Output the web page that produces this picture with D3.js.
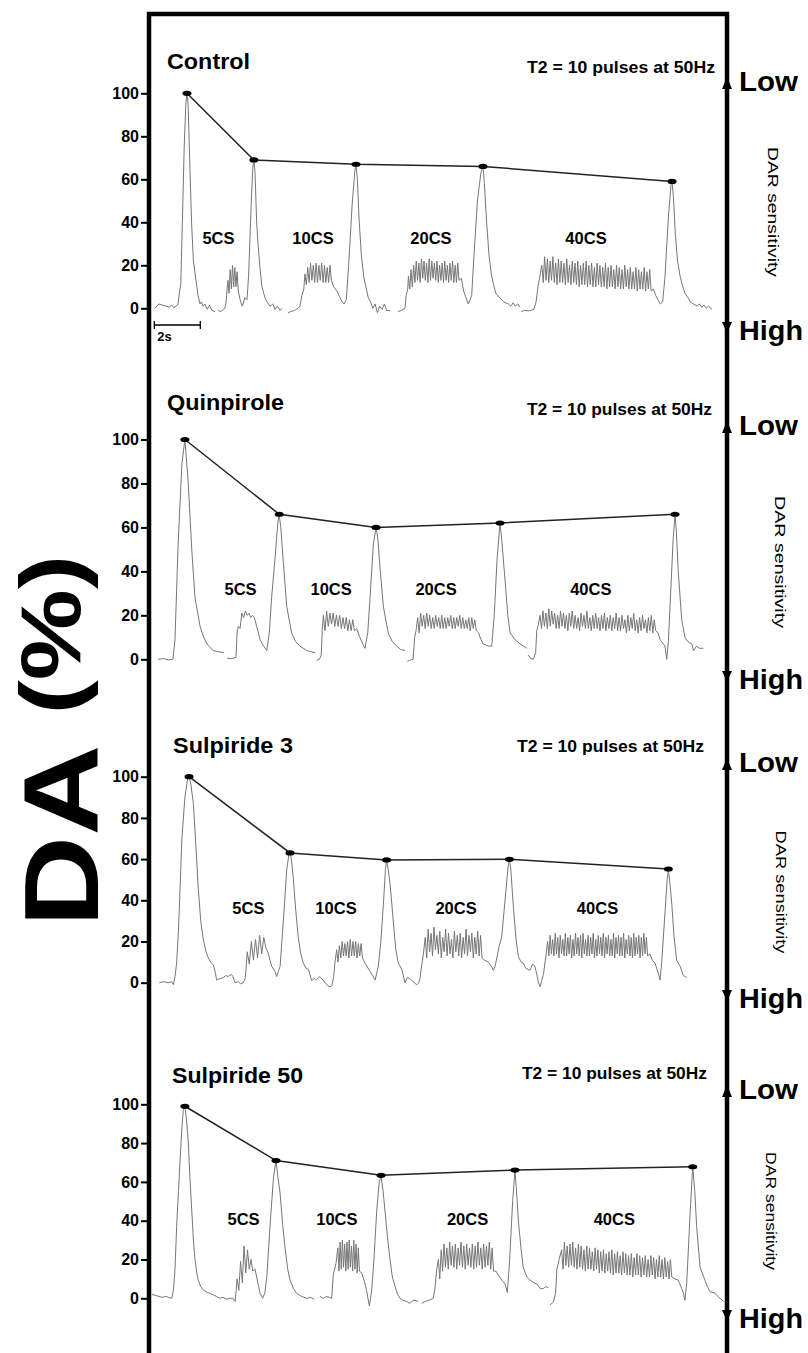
<!DOCTYPE html>
<html>
<head>
<meta charset="utf-8">
<title>DA (%) - DAR sensitivity</title>
<script src="https://d3js.org/d3.v7.min.js"></script>
<style>
  body { margin: 0; background: #fff; }
  svg text { font-family: "Liberation Sans", Arial, sans-serif; fill: #000; }
</style>
</head>
<body>
<svg id="chart" width="808" height="1353"></svg>
<script>
// ---- data (time in s, DA in %) ----
const panelNames = ["Control", "Quinpirole", "Sulpiride 3", "Sulpiride 50"];
const stimText = "T2 = 10 pulses at 50Hz";
const csLabels = ["5CS", "10CS", "20CS", "40CS"];
const yTicks = [0, 20, 40, 60, 80, 100];
const scaleBarT = [0.1, 2.1];

// T2 peak heights
const ctrlPeakT = [1.52, 4.43, 8.87, 14.39, 22.61];
const ctrlPeakV = [100, 69, 67, 66, 59];
const quinPeakT = [1.43, 5.53, 9.74, 15.13, 22.74];
const quinPeakV = [100, 66, 60, 62, 66];
const sul3PeakT = [1.61, 6.0, 10.2, 15.54, 22.45];
const sul3PeakV = [100, 63, 59.6, 59.9, 55.2];
const sul50PeakT = [1.43, 5.39, 9.96, 15.78, 23.51];
const sul50PeakV = [99, 71, 63.4, 66.1, 67.8];

// label position (time of centre) and level for 5CS..40CS
const ctrlLabelT = [2.89, 7.0, 12.13, 18.87], ctrlLabelV = 30;
const quinLabelT = [3.85, 7.79, 12.35, 19.08], quinLabelV = 29.3;
const sul3LabelT = [4.19, 8.0, 13.22, 19.37], sul3LabelV = 33.3;
const sul50LabelT = [3.98, 8.04, 13.72, 20.1], sul50LabelV = 37.8;

// trace segments (smooth parts), [t, v]
const ctrlTrace = [
  [[0.13,0],[0.3,2],[0.45,1.5],[0.6,1],[0.75,0.5],[0.85,1.5],[0.95,0.3],[1.05,1],[1.13,2],[1.2,8],[1.25,11],[1.32,40],[1.4,75],[1.47,95],[1.52,100],[1.57,95],[1.65,65],[1.72,40],[1.8,22],[1.9,14],[2.0,6],[2.09,2],[2.15,3],[2.22,1],[2.3,2],[2.4,-0.5],[2.5,1.5],[2.6,-1],[2.74,-1.5]],
  [[2.87,-1],[3.0,-1.5],[3.1,-0.5],[3.17,0],[3.22,3],[3.26,8],[3.83,4],[3.92,1],[3.96,2],[4.04,5],[4.13,4],[4.2,15],[4.3,45],[4.38,65],[4.43,69],[4.48,63],[4.55,40],[4.61,30],[4.7,18],[4.78,10],[4.91,5],[5.0,3],[5.13,1],[5.25,2],[5.35,-0.5],[5.45,1],[5.57,-1],[5.65,0]],
  [[5.91,-2],[6.05,-1.5],[6.2,-1],[6.35,0],[6.43,1],[6.52,6],[6.6,9],[7.9,10],[8.04,8],[8.17,5],[8.26,3],[8.35,2],[8.45,4],[8.55,20],[8.7,48],[8.82,64],[8.87,67],[8.93,60],[9.0,42],[9.1,25],[9.2,15],[9.3,10],[9.4,5],[9.5,3],[9.6,0],[9.7,2],[9.8,-2],[9.9,1],[10.0,-0.5],[10.1,2],[10.2,-1],[10.35,-1]],
  [[10.7,-1.5],[10.85,-1],[11.0,0],[11.05,6],[11.12,9],[13.45,14],[13.55,8],[13.65,5],[13.75,2],[13.83,4],[13.9,6],[14.0,25],[14.15,50],[14.3,63],[14.39,66],[14.45,58],[14.55,40],[14.65,25],[14.75,16],[14.85,11],[14.95,7],[15.1,5],[15.3,3],[15.5,2],[15.6,1],[15.7,2.5],[15.8,1],[15.9,2],[16.0,0.5]],
  [[16.05,-1.5],[16.2,-1],[16.4,-1.2],[16.6,-0.5],[16.7,3],[16.78,10],[16.85,14],[21.8,9],[21.9,6],[22.0,4],[22.1,2],[22.2,3],[22.3,14],[22.45,42],[22.56,57],[22.61,59],[22.67,52],[22.75,35],[22.85,22],[22.96,15],[23.05,11],[23.17,7],[23.3,5],[23.4,3],[23.55,2],[23.7,1],[23.8,2],[23.9,0.5],[24.0,1.5],[24.1,0],[24.2,1],[24.35,-0.5]]
];
const quinTrace = [
  [[0.26,0],[0.5,0.3],[0.7,-0.3],[0.91,0],[1.0,9],[1.13,51],[1.3,89],[1.43,100],[1.57,81],[1.74,48],[1.87,28],[2.09,15],[2.25,10],[2.39,7],[2.65,4],[2.85,3.5],[3.13,3]],
  [[3.27,0.5],[3.45,0.3],[3.65,0.8],[3.7,12],[4.55,15],[4.7,9],[4.85,6],[4.99,4],[5.1,12],[5.2,28],[5.35,46],[5.47,62],[5.53,66],[5.6,60],[5.71,44],[5.86,24],[6.07,12],[6.25,8],[6.43,6],[6.73,4],[6.9,3.5],[7.09,3]],
  [[7.16,-0.5],[7.28,0],[7.36,2],[7.4,13],[8.9,14],[9.0,11],[9.12,8],[9.26,5],[9.38,12],[9.48,28],[9.62,52],[9.74,60],[9.82,55],[9.91,42],[10.06,24],[10.27,12],[10.45,8],[10.64,6],[10.8,4.5],[11.0,4]],
  [[11.1,-1],[11.2,-0.5],[11.35,0],[11.42,10],[11.48,13],[14.2,12],[14.3,9],[14.4,7],[14.62,6],[14.77,6],[14.88,20],[15.0,45],[15.13,62],[15.2,55],[15.35,36],[15.47,20],[15.57,12],[15.78,9],[16.0,7],[16.15,6],[16.29,5]],
  [[16.36,2],[16.45,0.5],[16.58,0],[16.68,3],[16.73,13],[16.8,16],[22.0,12],[22.09,9],[22.3,6],[22.38,0],[22.45,8],[22.55,30],[22.66,55],[22.74,66],[22.8,58],[22.88,40],[23.03,18],[23.17,10],[23.3,8],[23.47,7],[23.55,4],[23.68,6],[23.8,5],[23.97,5]]
];
const sul3Trace = [
  [[0.32,0],[0.5,0.5],[0.7,0],[0.85,0.5],[0.93,-1],[1.0,3],[1.07,9.5],[1.15,25],[1.22,46],[1.3,70],[1.43,90],[1.55,99],[1.61,100],[1.68,97],[1.8,87],[1.9,68],[2.01,46],[2.12,30],[2.23,21],[2.35,15],[2.45,12],[2.55,10],[2.67,8.6],[2.75,5],[2.81,1.3],[2.96,2],[3.1,2.5],[3.2,3.5],[3.3,3],[3.45,4],[3.52,3],[3.61,0],[3.75,0.5],[3.85,-0.5],[3.97,0]],
  [[3.97,0],[4.05,2],[4.1,8],[5.06,14],[5.2,8],[5.35,5.5],[5.42,3],[5.57,8],[5.71,30],[5.86,55],[5.95,62],[6.0,63],[6.06,60],[6.14,51],[6.25,35],[6.36,22],[6.47,14],[6.58,9.5],[6.7,7],[6.8,6.5],[6.94,1],[7.05,2],[7.15,1.5],[7.3,3],[7.45,1],[7.6,-1],[7.74,-2]],
  [[7.74,-2],[7.82,-1.5],[7.9,3],[7.95,9.5],[9.26,9.5],[9.48,5.5],[9.7,1.3],[9.84,8],[9.95,20],[10.06,38],[10.15,55],[10.2,59.6],[10.27,55],[10.35,48],[10.49,30],[10.6,16],[10.71,9.5],[10.86,6.5],[11.0,0],[11.1,2.5],[11.22,2],[11.35,0.5],[11.51,-1],[11.6,0]],
  [[11.6,0],[11.65,2],[11.72,8],[11.8,14],[14.45,11],[14.62,10],[14.75,8],[14.84,6],[14.92,8],[14.99,12],[15.1,18],[15.2,22],[15.35,40],[15.48,56],[15.54,60],[15.6,55],[15.71,37],[15.82,22],[15.93,12.6],[16.05,10],[16.14,9.5],[16.25,7],[16.43,6],[16.55,9],[16.65,8],[16.75,3],[16.8,0],[16.88,-2],[16.94,1]],
  [[16.94,1],[17.02,4],[17.09,10],[17.14,14],[21.65,14],[21.75,11],[21.87,9.5],[22.0,5],[22.09,1.3],[22.16,10],[22.28,30],[22.4,50],[22.45,55],[22.52,48],[22.6,38],[22.7,22],[22.81,11],[22.96,8],[23.1,3.5],[23.25,2.5]]
];
const sul50Trace = [
  [[0.0,2],[0.15,1.5],[0.3,1],[0.45,0.5],[0.6,1],[0.75,0.3],[0.86,0],[0.93,4],[1.0,15],[1.07,37],[1.15,55],[1.22,71],[1.3,88],[1.36,97],[1.43,99],[1.5,92],[1.58,80],[1.65,62],[1.73,45],[1.8,30],[1.87,20],[1.95,13],[2.01,9.4],[2.12,6],[2.23,4.3],[2.4,3],[2.55,2.5],[2.67,1.7],[2.8,1],[2.95,0],[3.09,0.5],[3.25,-0.5],[3.4,0],[3.52,0],[3.61,-1.7],[3.66,4],[4.48,15],[4.6,8],[4.7,2.6],[4.81,0],[4.91,3],[5.0,12],[5.13,37],[5.28,62],[5.39,71],[5.47,63],[5.57,54],[5.68,38],[5.78,26.6],[5.9,15],[6.0,9.4],[6.15,5],[6.29,2.6],[6.5,1],[6.73,0],[6.9,0.5],[7.05,-0.5]],
  [[7.3,1],[7.45,0],[7.6,1],[7.81,0],[7.88,12],[8.0,18],[9.12,13],[9.25,8],[9.33,4],[9.45,-4],[9.55,4],[9.65,20],[9.77,45],[9.88,60],[9.96,63],[10.05,55],[10.13,45],[10.25,30],[10.35,20],[10.45,11],[10.57,6],[10.68,2],[10.78,0],[10.9,-1],[11.05,-1.5],[11.22,-2.6],[11.35,-1],[11.58,-1.5]],
  [[11.73,-2.6],[11.9,-1.5],[12.05,-1],[12.23,0],[12.3,5],[12.38,15],[14.95,14],[15.06,12],[15.2,9.5],[15.35,7.4],[15.45,3],[15.55,20],[15.68,50],[15.78,66],[15.85,55],[15.93,40],[16.05,25],[16.14,16],[16.3,11],[16.43,9.4],[16.6,8],[16.73,7.4],[16.88,5],[17.01,5],[17.12,6],[17.23,5.5]],
  [[17.3,-3.4],[17.45,-2],[17.55,3],[17.6,14.6],[17.7,20],[22.74,10],[22.88,9.4],[23.03,5],[23.1,3],[23.17,-1],[23.25,8],[23.38,40],[23.51,68],[23.6,55],[23.68,37],[23.83,16],[24.04,9.4],[24.15,6],[24.26,3.4],[24.48,2.6],[24.6,1],[24.7,0],[24.84,-1.5]]
];

// pulse trains: [start, end] time, pulse tops and troughs (5, 10, 20, 40 pulses)
const ctrlBurstT = [[3.3, 3.75], [6.65, 7.8], [11.15, 13.35], [16.95, 21.7]];
const ctrlBurstHi = [
  [13,18,20,19,17],
  [16,19,21,20,21,20,21,20,19,20],
  [15,18,20,22,21,23,22,21,23,22,21,22,20,21,22,20,21,22,20,21],
  [20,24,23,22,24,21,23,22,21,23,20,22,21,22,20,21,22,20,21,19,21,20,19,21,19,20,18,20,19,18,20,18,19,17,19,18,17,19,17,18]
];
const ctrlBurstLo = [
  [7,9,10,10,8],
  [11,12,13,12,12,13,12,12,12,13],
  [9,10,12,13,12,14,13,12,13,14,13,12,13,12,13,12,13,12,12,13],
  [12,13,12,13,12,11,12,12,11,12,11,12,11,10,11,11,10,11,10,10,11,10,10,9,10,10,9,10,9,9,10,9,9,9,8,9,9,8,9,8]
];
const quinBurstT = [[3.75, 4.45], [7.45, 8.8], [11.55, 14.1], [16.87, 21.9]];
const quinBurstHi = [
  [15,21,22,21,20],
  [20,22,21,21,20,20,19,19,18,18],
  [19,21,20,21,20,19,20,19,20,19,19,20,19,19,20,19,18,19,19,18],
  [20,22,21,23,22,21,20,22,21,20,21,22,20,19,21,20,22,19,20,21,19,20,21,19,20,19,21,19,20,18,20,19,21,18,19,20,18,19,20,18]
];
const quinBurstLo = [
  [14,19,20,19,19],
  [13,15,16,15,15,14,14,13,13,13],
  [12,15,14,15,14,14,15,14,14,14,15,14,14,15,14,14,14,13,14,13],
  [14,15,14,15,16,14,14,15,14,13,15,14,14,13,15,14,14,13,14,14,13,14,13,14,13,14,13,13,14,12,13,14,13,12,13,14,12,13,12,13]
];
const sul3BurstT = [[4.14, 4.95], [8.03, 9.15], [11.88, 14.35], [17.2, 21.55]];
const sul3BurstHi = [
  [15,20,21,23,22],
  [16,18,20,19,20,21,20,20,19,19],
  [22,26,24,27,23,25,22,26,24,21,25,23,24,22,26,23,24,22,25,23],
  [20,23,21,24,22,23,21,24,22,23,21,24,22,23,24,21,23,22,24,21,23,22,24,22,23,21,24,22,23,22,24,21,23,22,24,22,23,22,24,22]
];
const sul3BurstLo = [
  [9,11,12,14,17],
  [10,12,13,13,12,13,13,12,13,12],
  [12,15,13,16,14,12,15,13,14,12,15,13,12,14,13,15,12,14,13,12],
  [13,14,13,14,12,14,13,13,14,12,13,14,13,12,14,13,13,14,12,13,14,13,12,14,13,13,12,14,13,13,12,14,13,12,13,14,12,13,14,13]
];
const sul50BurstT = [[3.7, 4.38], [8.08, 9.02], [12.45, 14.85], [17.81, 22.6]];
const sul50BurstHi = [
  [10,19,27,25,20],
  [26,29,30,28,29,30,27,30,28,26],
  [20,25,28,26,29,27,28,26,29,27,28,26,28,27,29,26,28,27,29,26],
  [25,29,27,28,29,26,28,27,25,27,26,24,26,25,24,25,23,24,25,23,24,22,24,23,22,23,21,23,22,21,22,20,22,21,20,22,20,21,19,20]
];
const sul50BurstLo = [
  [4,8,13,15,14],
  [14,15,16,14,15,16,14,15,13,14],
  [10,14,16,15,17,16,15,17,16,15,17,16,15,16,17,15,16,17,15,14],
  [15,17,16,17,16,15,16,15,14,15,15,14,15,13,14,13,14,13,12,13,13,12,13,12,12,11,12,12,11,12,11,11,12,10,11,11,10,11,10,11]
];

// ---- layout ----
const W = 808, H = 1353;
const axisX = 149, rightX = 727, topY = 14;

const panels = [
  { name: panelNames[0], y0: 308.3, y100: 93.3, titleX: 167, titleY: 69, titleLen: 83, t2X: 715, t2Y: 73, t2Len: 188, low: 91, high: 340, darX: 768, darY: 212, darLen: 130,
    peakT: ctrlPeakT, peakV: ctrlPeakV, labelT: ctrlLabelT, labelV: ctrlLabelV, trace: ctrlTrace, burstT: ctrlBurstT, burstHi: ctrlBurstHi, burstLo: ctrlBurstLo, scaleBar: true },
  { name: panelNames[1], y0: 659.3, y100: 439.5, titleX: 167, titleY: 410, titleLen: 117, t2X: 712, t2Y: 415, t2Len: 185, low: 435, high: 689, darX: 775, darY: 562, darLen: 132,
    peakT: quinPeakT, peakV: quinPeakV, labelT: quinLabelT, labelV: quinLabelV, trace: quinTrace, burstT: quinBurstT, burstHi: quinBurstHi, burstLo: quinBurstLo },
  { name: panelNames[2], y0: 982.7, y100: 776.7, titleX: 173, titleY: 753, titleLen: 120, t2X: 704, t2Y: 752, t2Len: 187, low: 772, high: 1008, darX: 776, darY: 892, darLen: 123,
    peakT: sul3PeakT, peakV: sul3PeakV, labelT: sul3LabelT, labelV: sul3LabelV, trace: sul3Trace, burstT: sul3BurstT, burstHi: sul3BurstHi, burstLo: sul3BurstLo },
  { name: panelNames[3], y0: 1298.3, y100: 1104.3, titleX: 172, titleY: 1083, titleLen: 131, t2X: 707, t2Y: 1079, t2Len: 185, low: 1099, high: 1328, darX: 766, darY: 1211, darLen: 118,
    peakT: sul50PeakT, peakV: sul50PeakV, labelT: sul50LabelT, labelV: sul50LabelV, trace: sul50Trace, burstT: sul50BurstT, burstHi: sul50BurstHi, burstLo: sul50BurstLo }
];

const svg = d3.select("#chart");
const x = d3.scaleLinear().domain([0, 25]).range([152, 727]);

// put the pulse trains into their segment
function buildSegments(segs, spans, his, los) {
  const out = segs.map(s => s.map(p => ({ t: p[0], v: p[1] })));
  spans.forEach((span, i) => {
    const hi = his[i], lo = los[i], n = hi.length;
    const step = (span[1] - span[0]) / (2 * n - 1);
    const seg = out.find(s => s[0].t <= span[0] && s[s.length - 1].t >= span[1]);
    for (let k = 0; k < n; k++) {
      seg.push({ t: span[0] + 2 * k * step, v: hi[k] });
      seg.push({ t: span[0] + (2 * k + 1) * step, v: lo[k] });
    }
    seg.sort((a, b) => a.t - b.t);
  });
  return out;
}

panels.forEach(p => {
  const y = d3.scaleLinear().domain([0, 100]).range([p.y0, p.y100]);
  const g = svg.append("g");

  // y axis ticks
  const ax = g.append("g")
    .attr("transform", "translate(" + (axisX - 1) + ",0)")
    .call(d3.axisLeft(y).tickValues(yTicks).tickSize(7).tickPadding(2));
  ax.select(".domain").remove();
  ax.selectAll("line").attr("stroke", "#000").attr("stroke-width", 2);
  ax.selectAll("text").attr("font-size", "16px").attr("font-weight", "bold")
    .attr("font-family", "'Liberation Sans', Arial, sans-serif").attr("fill", "#000");

  // trace
  const line = d3.line().x(d => x(d.t)).y(d => y(d.v));
  g.selectAll(".trace").data(buildSegments(p.trace, p.burstT, p.burstHi, p.burstLo))
    .enter().append("path")
    .attr("d", line)
    .attr("fill", "none")
    .attr("stroke", "#767676")
    .attr("stroke-width", 1)
    .attr("stroke-linejoin", "round");

  // peaks joined
  const peaks = p.peakT.map((t, i) => ({ t: t, v: p.peakV[i] }));
  g.append("path").attr("d", line(peaks))
    .attr("fill", "none").attr("stroke", "#222").attr("stroke-width", 1.5);
  g.selectAll(".dot").data(peaks).enter().append("ellipse")
    .attr("cx", d => x(d.t)).attr("cy", d => y(d.v))
    .attr("rx", 4.5).attr("ry", 2.6).attr("fill", "#000");

  // stim labels
  g.selectAll(".cs").data(csLabels).enter().append("text")
    .attr("x", (d, i) => x(p.labelT[i])).attr("y", y(p.labelV))
    .attr("text-anchor", "middle").attr("font-size", "16.5px").attr("font-weight", "bold")
    .text(d => d);

  // titles
  g.append("text").attr("x", p.titleX).attr("y", p.titleY)
    .attr("font-size", "21.5px").attr("font-weight", "bold")
    .attr("textLength", p.titleLen).attr("lengthAdjust", "spacingAndGlyphs")
    .text(p.name);
  g.append("text").attr("x", p.t2X).attr("y", p.t2Y).attr("text-anchor", "end")
    .attr("font-size", "16px").attr("font-weight", "bold")
    .attr("textLength", p.t2Len).attr("lengthAdjust", "spacingAndGlyphs")
    .text(stimText);

  // DAR sensitivity arrows
  g.append("path")
    .attr("d", "M" + (rightX - 5) + "," + (p.low - 2) + "L" + rightX + "," + (p.low - 14) + "L" + (rightX + 5) + "," + (p.low - 2) + "Z")
    .attr("fill", "#000");
  g.append("path")
    .attr("d", "M" + (rightX - 5) + "," + (p.high - 18) + "L" + rightX + "," + (p.high - 7) + "L" + (rightX + 5) + "," + (p.high - 18) + "Z")
    .attr("fill", "#000");
  g.append("text").attr("x", 739).attr("y", p.low)
    .attr("font-size", "27px").attr("font-weight", "bold")
    .attr("textLength", 59).attr("lengthAdjust", "spacingAndGlyphs").text("Low");
  g.append("text").attr("x", 739).attr("y", p.high)
    .attr("font-size", "27px").attr("font-weight", "bold")
    .attr("textLength", 64).attr("lengthAdjust", "spacingAndGlyphs").text("High");
  g.append("text")
    .attr("transform", "translate(" + p.darX + "," + p.darY + ") rotate(90)")
    .attr("text-anchor", "middle").attr("font-size", "14.5px")
    .attr("textLength", p.darLen).attr("lengthAdjust", "spacingAndGlyphs")
    .text("DAR sensitivity");

  // 2 s scale bar
  if (p.scaleBar) {
    const by = 325;
    g.append("path")
      .attr("d", "M" + x(scaleBarT[0]) + "," + (by - 4) + "V" + (by + 4) + "M" + x(scaleBarT[0]) + "," + by +
        "H" + x(scaleBarT[1]) + "M" + x(scaleBarT[1]) + "," + (by - 4) + "V" + (by + 4))
      .attr("stroke", "#000").attr("stroke-width", 1.3).attr("fill", "none");
    g.append("text").attr("x", x(scaleBarT[0]) + 3).attr("y", 341)
      .attr("font-size", "13px").attr("font-weight", "bold").text("2s");
  }
});

// frame lines
svg.append("path")
  .attr("d", "M" + axisX + "," + H + "V" + topY + "H" + rightX + "V" + H)
  .attr("fill", "none").attr("stroke", "#000").attr("stroke-width", 4.5);

// big y label ("(%)" a bit smaller so the brackets stay inside the margin)
const bigLabel = svg.append("text")
  .attr("transform", "translate(98,741) rotate(-90)")
  .attr("text-anchor", "middle").attr("font-size", "106px").attr("font-weight", "bold")
  .attr("textLength", 372).attr("lengthAdjust", "spacingAndGlyphs");
bigLabel.append("tspan").text("DA ");
bigLabel.append("tspan").attr("font-size", "86px").attr("dy", -18).text("(%)");
</script>
</body>
</html>
